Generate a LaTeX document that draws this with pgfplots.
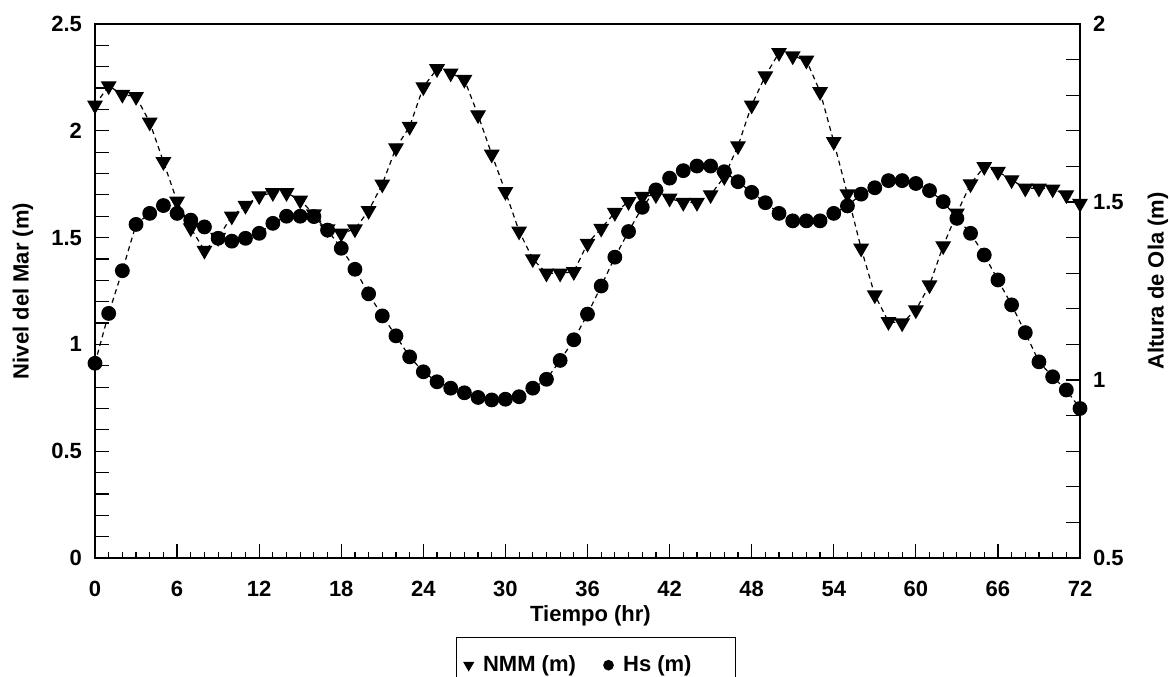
\documentclass[border=0pt]{standalone}
\usepackage{fontspec}
\setmainfont{Liberation Sans}
\usepackage{pgfplots}
\usepackage{pgfplotstable}
\pgfplotsset{compat=1.18}

\pgfplotstableread{
t v
0 2.12
1 2.21
2 2.17
3 2.16
4 2.04
5 1.855
6 1.67
7 1.545
8 1.44
9 1.50
10 1.60
11 1.65
12 1.695
13 1.71
14 1.71
15 1.675
16 1.61
17 1.54
18 1.52
19 1.54
20 1.626
21 1.75
22 1.92
23 2.02
24 2.205
25 2.29
26 2.27
27 2.24
28 2.074
29 1.89
30 1.715
31 1.53
32 1.40
33 1.333
34 1.333
35 1.34
36 1.473
37 1.543
38 1.617
39 1.668
40 1.692
41 1.70
42 1.684
43 1.664
44 1.664
45 1.70
46 1.785
47 1.929
48 2.12
49 2.257
50 2.366
51 2.35
52 2.33
53 2.183
54 1.949
55 1.704
56 1.45
57 1.231
58 1.106
59 1.10
60 1.161
61 1.278
62 1.461
63 1.614
64 1.751
65 1.832
66 1.809
67 1.77
68 1.731
69 1.731
70 1.727
71 1.70
72 1.66
}\nmm

\pgfplotstableread{
t v
0 1.047
1 1.187
2 1.307
3 1.437
4 1.468
5 1.49
6 1.468
7 1.449
8 1.43
9 1.398
10 1.39
11 1.398
12 1.412
13 1.44
14 1.46
15 1.46
16 1.459
17 1.421
18 1.37
19 1.311
20 1.242
21 1.18
22 1.124
23 1.065
24 1.023
25 0.995
26 0.977
27 0.964
28 0.951
29 0.944
30 0.946
31 0.953
32 0.977
33 1.002
34 1.055
35 1.113
36 1.185
37 1.264
38 1.345
39 1.417
40 1.485
41 1.534
42 1.567
43 1.588
44 1.601
45 1.601
46 1.585
47 1.557
48 1.527
49 1.498
50 1.468
51 1.447
52 1.447
53 1.447
54 1.468
55 1.489
56 1.522
57 1.54
58 1.56
59 1.56
60 1.552
61 1.532
62 1.501
63 1.454
64 1.412
65 1.351
66 1.281
67 1.211
68 1.133
69 1.051
70 1.009
71 0.972
72 0.92
}\hs

\newcommand{\lbl}{\fontsize{11}{13.2}\selectfont\bfseries}

\pgfplotsset{
  mylegimg/.style={legend image code/.code={\draw[##1] plot coordinates {(0.1cm,0cm)};}},
  common/.style={
    width=492.5pt, height=267pt, scale only axis,
    xmin=0, xmax=72,
    axis line style={line width=0.9pt, black},
    major tick length=7pt, minor tick length=3pt,
    tick style={line width=0.6pt, black},
    /pgf/number format/assume math mode=true,
    tick label style={font=\lbl},
    label style={font=\lbl},
  },
}

\begin{document}
\begin{tikzpicture}[font=\lbl]
\begin{axis}[common,
  ymin=0, ymax=2.5,
  xtick={0,6,12,18,24,30,36,42,48,54,60,66,72},
  minor x tick num=5,
  ytick={0,0.1,0.2,0.3,0.4,0.5,0.6,0.7,0.8,0.9,1,1.1,1.2,1.3,1.4,1.5,1.6,1.7,1.8,1.9,2,2.1,2.2,2.3,2.4,2.5},
  yticklabels={0,,,,,0.5,,,,,1,,,,,1.5,,,,,2,,,,,2.5},
  xtick pos=bottom, ytick pos=left,
  xticklabel style={yshift=-8pt},
  yticklabel style={xshift=-3pt},
  xlabel={Tiempo (hr)},
  ylabel={Nivel del Mar (m)},
  xlabel style={at={(axis description cs:0.503,-0.1086)}, anchor=center},
  ylabel style={at={(axis description cs:-0.0731,0.5)}, anchor=center},
]
\addplot[black, line width=0.6pt, dash pattern=on 2.5pt off 2pt,
  mark=triangle*, mark size=4pt, mark options={solid, rotate=180, fill=black}]
  table[x=t, y=v]{\nmm};
\coordinate (bl) at (rel axis cs:0,0);
\coordinate (tr) at (rel axis cs:1,1);
\end{axis}

\begin{axis}[common,
  axis y line*=right, axis x line=none,
  y axis line style={-},
  ymin=0.5, ymax=2,
  ytick={0.5,0.6,0.7,0.8,0.9,1,1.1,1.2,1.3,1.4,1.5,1.6,1.7,1.8,1.9,2},
  yticklabels={0.5,,,,,1,,,,,1.5,,,,,2},
  yticklabel style={xshift=3pt},
  ylabel={Altura de Ola (m)},
  ylabel style={at={(axis description cs:1.079,0.519)}, anchor=center},
  legend style={at={(axis description cs:0.5086,-0.148)}, anchor=north,
    legend columns=2, draw=black, line width=0.7pt,
    inner xsep=4pt, inner ysep=7pt, font=\lbl,
    /tikz/every even column/.append style={column sep=12pt}},
]
\addlegendimage{black, only marks, mark=triangle*, mark size=2.5pt,
  mark options={rotate=180, fill=black}, mylegimg}
\addlegendentry{\hspace*{3pt}NMM (m)}
\addlegendimage{black, only marks, mark=*, mark size=2.3pt, mylegimg}
\addlegendentry{\hspace*{3pt}Hs (m)\hspace*{16pt}}
\addplot[black, line width=0.6pt, dash pattern=on 2.5pt off 2pt, forget plot,
  mark=*, mark size=3.4pt, mark options={solid, fill=black}]
  table[x=t, y=v]{\hs};
\end{axis}
\pgfresetboundingbox
\useasboundingbox ([xshift=-47.5pt,yshift=-59.5pt]bl) rectangle ([xshift=45pt,yshift=12pt]tr);
\end{tikzpicture}
\end{document}
